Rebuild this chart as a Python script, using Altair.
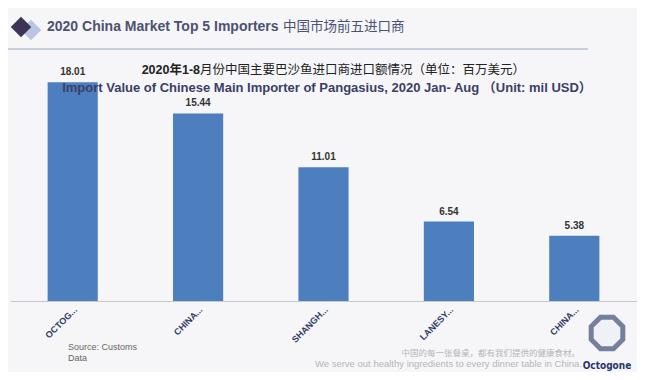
import altair as alt
import pandas as pd

names = ["OCTOG...", "CHINA...", "SHANGH...", "LANESY...", "CHINA..."]
values = [18.01, 15.44, 11.01, 6.54, 5.38]

df = pd.DataFrame({"idx": list(range(len(names))), "name": names, "value": values})

label_expr = "[" + ",".join("'" + n + "'" for n in names) + "][datum.value]"

W, H = 627, 243
FONT = "Liberation Sans, Arial, Noto Sans CJK SC"
CJK = "Noto Sans CJK SC"
NAVY = "#2e3d66"

base = alt.Chart(df).encode(
    x=alt.X(
        "idx:O",
        title=None,
        scale=alt.Scale(paddingInner=0.6, paddingOuter=0.3),
        axis=alt.Axis(
            labelExpr=label_expr,
            labelAngle=-45,
            labelFontSize=9,
            labelFontWeight="bold",
            labelColor=NAVY,
            labelFont=FONT,
            labelPadding=4,
            ticks=False,
            domainColor="#c8c8cc",
            domainWidth=1,
        ),
    ),
    y=alt.Y("value:Q", scale=alt.Scale(domain=[0, 20]), axis=None),
)

bars = base.mark_bar(color="#4d7fbe")
vals = base.mark_text(dy=-10, fontSize=10, fontWeight="bold", color="#333333", font=FONT).encode(
    text=alt.Text("value:Q", format=".2f")
)

def txt(s, x, y, **kw):
    return alt.Chart(pd.DataFrame({"t": [s]})).mark_text(**kw).encode(
        text="t:N", x=alt.value(x), y=alt.value(y)
    )

title_en = txt("2020 China Market Top 5 Importers", 37, -31, align="left", baseline="middle",
               fontSize=14, fontWeight="bold", color="#4b5273", font=FONT)
title_cn = txt("中国市场前五进口商", 273, -31, align="left", baseline="middle",
               fontSize=13.5, fontWeight="normal", color="#4b5273", font=CJK)
rule = alt.Chart(pd.DataFrame({"a": [0]})).mark_rule(color="#9aa8c4", strokeWidth=1).encode(
    x=alt.value(-2), x2=alt.value(578), y=alt.value(-9)
)
d1 = alt.Chart(pd.DataFrame({"a": [0]})).mark_point(
    shape="diamond", filled=True, size=420, color="#b9c6e2", opacity=1
).encode(x=alt.value(21), y=alt.value(-28))
d2 = alt.Chart(pd.DataFrame({"a": [0]})).mark_point(
    shape="diamond", filled=True, size=420, color="#3d3558", opacity=1
).encode(x=alt.value(11), y=alt.value(-31))

sub_b = txt("2020年1-8", 190, 12, align="right", baseline="middle", fontSize=12.5,
            fontWeight="bold", color="#222222", font=FONT)
sub_r = txt("月份中国主要巴沙鱼进口商进口额情况（单位：百万美元）", 190, 12, align="left",
            baseline="middle", fontSize=12.5, fontWeight="normal", color="#222222", font=CJK)
sub_en = txt("Import Value of Chinese Main Importer of Pangasius, 2020 Jan- Aug （Unit: mil USD）",
             317, 30, align="center", baseline="middle", fontSize=13, fontWeight="bold",
             color="#3a3f66", font=FONT)

src1 = txt("Source: Customs", 58, 289, align="left", baseline="middle", fontSize=9,
           color="#666666", font=FONT)
src2 = txt("Data", 58, 300, align="left", baseline="middle", fontSize=9,
           color="#666666", font=FONT)

foot_cn = txt("中国的每一张餐桌，都有我们提供的健康食材。", 570, 295, align="right", baseline="middle",
              fontSize=8.5, color="#b5b5b8", font=CJK)
foot_en = txt("We serve out healthy ingredients to every dinner table in China.", 572, 306,
              align="right", baseline="middle", fontSize=9.5, color="#b5b5b8", font=FONT)

octa_path = "M-0.41,-1 L0.41,-1 L1,-0.41 L1,0.41 L0.41,1 L-0.41,1 L-1,0.41 L-1,-0.41 Z"
logo = alt.Chart(pd.DataFrame({"a": [0]})).mark_point(
    shape=octa_path, filled=False, size=1000, stroke="#3f4f78", strokeWidth=5, fill="#eef0f5"
).encode(x=alt.value(597), y=alt.value(275))
logo_t = txt("Octogone", 597, 308, align="center", baseline="middle", fontSize=10,
             fontWeight="bold", color="#27366a", font="Liberation Sans Narrow, DejaVu Sans Condensed, Liberation Sans")

chart = alt.layer(
    bars, vals, title_en, title_cn, rule, d1, d2, sub_b, sub_r, sub_en,
    src1, src2, foot_cn, foot_en, logo, logo_t
).properties(
    width=W, height=H,
    autosize=alt.AutoSizeParams(type="none"),
    padding={"left": 2, "top": 50, "right": 0, "bottom": 71},
    background="#f6f6f8",
).configure_view(stroke=None)

chart.save("out.html", embed_options={"renderer": "svg", "actions": False})
